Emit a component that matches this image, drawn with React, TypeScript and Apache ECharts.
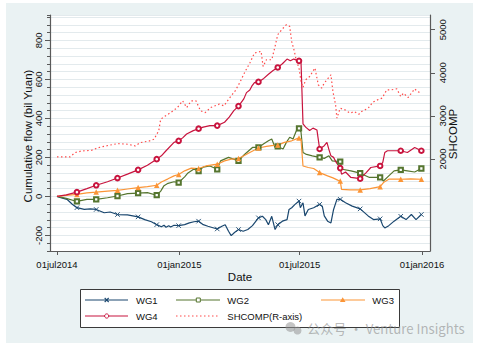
import React, { useEffect, useRef } from 'react';
import * as echarts from 'echarts';

const BASE = Date.UTC(2014, 6, 1);
const dayOf = (s: string) => {
  const [y, m, d] = s.split('-').map(Number);
  return Math.round((Date.UTC(y, m - 1, d) - BASE) / 86400000);
};

const FONT = '"Liberation Sans", Arial, sans-serif';

const xTickDates = ['2014-07-01', '2015-01-01', '2015-07-01', '2016-01-01'];
const xTickLabels = ['01jul2014', '01jan2015', '01jul2015', '01jan2016'];
const leftTicks = [-200, 0, 200, 400, 600, 800];
const rightTicks = [2000, 3000, 4000, 5000];
const seriesNames = ['WG1', 'WG2', 'WG3', 'WG4', 'SHCOMP(R-axis)'];

const monthEnds = [
  '2014-07-31', '2014-08-29', '2014-09-30', '2014-10-31', '2014-11-28', '2014-12-31',
  '2015-01-30', '2015-02-27', '2015-03-31', '2015-04-30', '2015-05-29', '2015-06-30',
  '2015-07-31', '2015-08-31', '2015-09-30', '2015-10-30', '2015-11-30', '2015-12-31',
];

const wg1: [string, number][] = [
  ['2014-07-01', 0], ['2014-07-08', -8], ['2014-07-16', -15], ['2014-07-24', -40], ['2014-07-31', -58],
  ['2014-08-11', -67], ['2014-08-20', -64], ['2014-08-29', -67], ['2014-09-10', -84], ['2014-09-19', -80],
  ['2014-09-30', -93], ['2014-10-15', -95], ['2014-10-31', -105], ['2014-11-10', -119], ['2014-11-20', -130],
  ['2014-11-28', -145], ['2014-12-05', -156], ['2014-12-09', -148], ['2014-12-12', -158], ['2014-12-16', -150],
  ['2014-12-19', -157], ['2014-12-24', -148], ['2014-12-31', -150], ['2015-01-09', -145], ['2015-01-16', -136],
  ['2015-01-23', -130], ['2015-01-30', -127], ['2015-02-06', -145], ['2015-02-13', -153], ['2015-02-27', -167],
  ['2015-03-06', -153], ['2015-03-11', -145], ['2015-03-16', -179], ['2015-03-20', -201], ['2015-03-25', -185],
  ['2015-03-31', -170], ['2015-04-07', -179], ['2015-04-14', -170], ['2015-04-21', -150], ['2015-04-30', -110],
  ['2015-05-06', -102], ['2015-05-11', -119], ['2015-05-15', -145], ['2015-05-20', -102], ['2015-05-25', -170],
  ['2015-05-29', -145], ['2015-06-05', -127], ['2015-06-12', -119], ['2015-06-15', -67], ['2015-06-19', -58],
  ['2015-06-24', -41], ['2015-06-30', -24], ['2015-07-02', -58], ['2015-07-06', -33], ['2015-07-09', -100],
  ['2015-07-14', -67], ['2015-07-22', -58], ['2015-07-31', -41], ['2015-08-04', -50], ['2015-08-07', -100],
  ['2015-08-12', -127], ['2015-08-17', -136], ['2015-08-21', -67], ['2015-08-26', -15], ['2015-08-31', -15],
  ['2015-09-08', -33], ['2015-09-18', -50], ['2015-09-30', -64], ['2015-10-12', -100], ['2015-10-20', -119],
  ['2015-10-30', -115], ['2015-11-03', -150], ['2015-11-06', -162], ['2015-11-12', -150], ['2015-11-20', -127],
  ['2015-11-30', -102], ['2015-12-08', -119], ['2015-12-16', -93], ['2015-12-23', -119], ['2015-12-31', -93],
];

const wg2: [string, number][] = [
  ['2014-07-01', 0], ['2014-07-15', -10], ['2014-07-31', -26], ['2014-08-15', -15], ['2014-08-29', -15],
  ['2014-09-15', -7], ['2014-09-30', 2], ['2014-10-15', 14], ['2014-10-31', 17], ['2014-11-14', 19],
  ['2014-11-28', 6], ['2014-12-04', 27], ['2014-12-09', 55], ['2014-12-15', 67], ['2014-12-24', 75],
  ['2014-12-31', 71], ['2015-01-09', 100], ['2015-01-14', 120], ['2015-01-23', 140], ['2015-01-30', 130],
  ['2015-02-06', 150], ['2015-02-16', 156], ['2015-02-27', 139], ['2015-03-04', 182], ['2015-03-16', 200],
  ['2015-03-31', 182], ['2015-04-09', 215], ['2015-04-21', 251], ['2015-04-30', 251], ['2015-05-08', 270],
  ['2015-05-15', 285], ['2015-05-20', 294], ['2015-05-25', 251], ['2015-05-29', 256], ['2015-06-06', 243],
  ['2015-06-11', 277], ['2015-06-16', 303], ['2015-06-21', 294], ['2015-06-26', 337], ['2015-06-30', 349],
  ['2015-07-03', 330], ['2015-07-06', 225], ['2015-07-10', 217], ['2015-07-20', 208], ['2015-07-31', 200],
  ['2015-08-07', 195], ['2015-08-14', 208], ['2015-08-19', 182], ['2015-08-31', 178], ['2015-09-03', 139],
  ['2015-09-16', 131], ['2015-09-30', 119], ['2015-10-14', 97], ['2015-10-30', 97], ['2015-11-04', 79],
  ['2015-11-12', 105], ['2015-11-20', 131], ['2015-11-30', 136], ['2015-12-10', 131], ['2015-12-21', 125],
  ['2015-12-31', 143],
];

const wg3: [string, number][] = [
  ['2014-07-01', 0], ['2014-07-15', 5], ['2014-07-31', 10], ['2014-08-15', 18], ['2014-08-29', 22],
  ['2014-09-15', 27], ['2014-09-30', 31], ['2014-10-15', 38], ['2014-10-31', 45], ['2014-11-14', 50],
  ['2014-11-28', 57], ['2014-12-05', 74], ['2014-12-15', 90], ['2014-12-24', 105], ['2014-12-31', 112],
  ['2015-01-09', 131], ['2015-01-19', 145], ['2015-01-30', 143], ['2015-02-10', 156], ['2015-02-27', 165],
  ['2015-03-10', 182], ['2015-03-20', 191], ['2015-03-31', 194], ['2015-04-08', 208], ['2015-04-17', 225],
  ['2015-04-30', 248], ['2015-05-12', 256], ['2015-05-20', 260], ['2015-05-29', 263], ['2015-06-08', 277],
  ['2015-06-19', 285], ['2015-06-30', 300], ['2015-07-03', 292], ['2015-07-06', 156], ['2015-07-14', 148],
  ['2015-07-22', 143], ['2015-07-31', 122], ['2015-08-12', 105], ['2015-08-20', 95], ['2015-08-28', 82],
  ['2015-08-31', 79], ['2015-09-02', 36], ['2015-09-15', 33], ['2015-09-30', 33], ['2015-10-15', 40],
  ['2015-10-30', 50], ['2015-11-04', 71], ['2015-11-12', 88], ['2015-11-30', 88], ['2015-12-15', 90],
  ['2015-12-31', 88],
];

const wg4: [string, number][] = [
  ['2014-07-01', 0], ['2014-07-15', 8], ['2014-07-31', 22], ['2014-08-15', 40], ['2014-08-29', 57],
  ['2014-09-15', 75], ['2014-09-30', 94], ['2014-10-15', 114], ['2014-10-31', 136], ['2014-11-14', 160],
  ['2014-11-28', 191], ['2014-12-05', 208], ['2014-12-12', 234], ['2014-12-24', 277], ['2014-12-31', 285],
  ['2015-01-06', 300], ['2015-01-12', 320], ['2015-01-22', 337], ['2015-01-30', 347], ['2015-02-06', 355],
  ['2015-02-16', 363], ['2015-02-27', 363], ['2015-03-10', 380], ['2015-03-17', 406], ['2015-03-24', 440],
  ['2015-03-31', 463], ['2015-04-08', 500], ['2015-04-12', 532], ['2015-04-17', 545], ['2015-04-20', 565],
  ['2015-04-24', 583], ['2015-04-30', 587], ['2015-05-08', 605], ['2015-05-15', 626], ['2015-05-22', 645],
  ['2015-05-29', 661], ['2015-06-05', 680], ['2015-06-12', 704], ['2015-06-17', 695], ['2015-06-22', 704],
  ['2015-06-30', 695], ['2015-07-03', 690], ['2015-07-06', 372], ['2015-07-10', 355], ['2015-07-16', 338],
  ['2015-07-21', 350], ['2015-07-27', 340], ['2015-07-31', 243], ['2015-08-07', 260], ['2015-08-11', 277],
  ['2015-08-14', 240], ['2015-08-17', 208], ['2015-08-21', 200], ['2015-08-25', 174], ['2015-08-31', 145],
  ['2015-09-02', 114], ['2015-09-08', 125], ['2015-09-16', 97], ['2015-09-30', 91], ['2015-10-09', 122],
  ['2015-10-16', 148], ['2015-10-30', 156], ['2015-11-03', 174], ['2015-11-06', 225], ['2015-11-10', 234],
  ['2015-11-20', 234], ['2015-11-30', 234], ['2015-12-10', 225], ['2015-12-21', 251], ['2015-12-31', 234],
];

const shcomp: [string, number][] = [
  ['2014-07-01', 2050], ['2014-07-21', 2050], ['2014-07-28', 2147], ['2014-08-07', 2186], ['2014-08-22', 2202],
  ['2014-09-01', 2263], ['2014-09-12', 2302], ['2014-09-30', 2356], ['2014-10-16', 2342], ['2014-10-27', 2302],
  ['2014-11-03', 2379], ['2014-11-17', 2419], ['2014-11-24', 2458], ['2014-11-28', 2574], ['2014-12-01', 2651],
  ['2014-12-04', 2923], ['2014-12-11', 3000], ['2014-12-19', 3077], ['2014-12-29', 3193], ['2015-01-06', 3349],
  ['2015-01-12', 3193], ['2015-01-19', 3349], ['2015-01-26', 3349], ['2015-02-02', 3116], ['2015-02-09', 3077],
  ['2015-02-17', 3193], ['2015-03-02', 3272], ['2015-03-09', 3233], ['2015-03-18', 3426], ['2015-03-26', 3582],
  ['2015-04-02', 3775], ['2015-04-10', 4031], ['2015-04-17', 4226], ['2015-04-24', 4459], ['2015-05-04', 4497],
  ['2015-05-07', 4147], ['2015-05-12', 4303], ['2015-05-20', 4303], ['2015-05-25', 4612], ['2015-05-29', 4884],
  ['2015-06-04', 5000], ['2015-06-11', 5117], ['2015-06-16', 5077], ['2015-06-19', 4728], ['2015-06-23', 4497],
  ['2015-06-26', 4280], ['2015-06-30', 4110], ['2015-07-03', 3800], ['2015-07-06', 3658], ['2015-07-10', 3838],
  ['2015-07-16', 3914], ['2015-07-24', 4110], ['2015-07-29', 3721], ['2015-08-03', 3644], ['2015-08-07', 3761],
  ['2015-08-17', 3954], ['2015-08-20', 3565], ['2015-08-24', 3256], ['2015-08-26', 2947], ['2015-08-31', 3179],
  ['2015-09-07', 3140], ['2015-09-15', 3063], ['2015-09-21', 3101], ['2015-09-28', 3039], ['2015-10-02', 3101],
  ['2015-10-12', 3179], ['2015-10-19', 3319], ['2015-10-26', 3372], ['2015-11-02', 3412], ['2015-11-09', 3605],
  ['2015-11-16', 3605], ['2015-11-24', 3628], ['2015-11-30', 3449], ['2015-12-04', 3528], ['2015-12-11', 3426],
  ['2015-12-21', 3628], ['2015-12-25', 3565], ['2015-12-31', 3528],
];

const COLORS = ['#1a476f', '#55752f', '#fb9537', '#c8143e', '#ff4a4a'];
const XSYM = 'path://M0,0L10,10M10,0L0,10';

const toData = (rows: [string, number][], sym: string) =>
  rows.map(([d, v]) => ({ value: [dayOf(d), v], symbol: monthEnds.includes(d) ? sym : 'none' }));

export default function App() {
  const ref = useRef<HTMLDivElement>(null);
  useEffect(() => {
    if (!ref.current) return;
    const chart = echarts.init(ref.current, undefined, { renderer: 'svg' });
    const xTicks = xTickDates.map(dayOf);
    const labelOf = (v: number) => {
      const i = xTicks.indexOf(Math.round(v));
      return i >= 0 ? xTickLabels[i] : '';
    };
    const axisLineStyle = { color: '#5a5a5a', width: 1.2 };
    const tickStyle = { color: '#5a5a5a', width: 1 };
    const lab = { fontSize: 9.5, fontFamily: FONT, color: '#111' };

    const ly1 = 300, ly2 = 316;
    const legendGraphics: any[] = [
      { type: 'rect', z: 10, shape: { x: 80.5, y: 289.5, width: 319, height: 38 }, style: { fill: '#fff', stroke: '#3a3a3a', lineWidth: 1 } },
      { type: 'line', z: 11, shape: { x1: 85, y1: ly1, x2: 128, y2: ly1 }, style: { stroke: COLORS[0], lineWidth: 1.2 } },
      { type: 'line', z: 12, shape: { x1: 104.7, y1: ly1 - 2, x2: 108.7, y2: ly1 + 2 }, style: { stroke: COLORS[0], lineWidth: 1.1 } },
      { type: 'line', z: 12, shape: { x1: 104.7, y1: ly1 + 2, x2: 108.7, y2: ly1 - 2 }, style: { stroke: COLORS[0], lineWidth: 1.1 } },
      { type: 'line', z: 11, shape: { x1: 176, y1: ly1, x2: 220, y2: ly1 }, style: { stroke: COLORS[1], lineWidth: 1.2 } },
      { type: 'rect', z: 12, shape: { x: 196.3, y: ly1 - 2, width: 4, height: 4 }, style: { fill: '#fff', stroke: COLORS[1], lineWidth: 1 } },
      { type: 'line', z: 11, shape: { x1: 321, y1: ly1, x2: 365, y2: ly1 }, style: { stroke: COLORS[2], lineWidth: 1.2 } },
      { type: 'polygon', z: 12, shape: { points: [[342.7, ly1 - 2.8], [345.5, ly1 + 2], [339.9, ly1 + 2]] }, style: { fill: COLORS[2] } },
      { type: 'line', z: 11, shape: { x1: 85, y1: ly2, x2: 128, y2: ly2 }, style: { stroke: COLORS[3], lineWidth: 1.2 } },
      { type: 'circle', z: 12, shape: { cx: 106.7, cy: ly2, r: 2.1 }, style: { fill: '#fff', stroke: COLORS[3], lineWidth: 1 } },
      { type: 'line', z: 11, shape: { x1: 176, y1: ly2, x2: 219, y2: ly2 }, style: { stroke: COLORS[4], lineWidth: 1.2, lineDash: [1.5, 2.5] } },
    ];
    const legendTexts = [
      [seriesNames[0], 136, ly1], [seriesNames[1], 227.3, ly1], [seriesNames[2], 372.3, ly1],
      [seriesNames[3], 136, ly2], [seriesNames[4], 227.3, ly2],
    ].map(([t, x, y]) => ({
      type: 'text', z: 12, x, y,
      style: { text: t, fontSize: 9.5, fontFamily: FONT, fill: '#111', textAlign: 'left', textVerticalAlign: 'middle' },
    }));

    chart.setOption({
      animation: false,
      backgroundColor: '#ffffff',
      grid: { left: 50, top: 15, width: 380, height: 236, containLabel: false },
      xAxis: {
        type: 'value', min: -10.5, max: 561,
        axisLine: { show: true, onZero: false, lineStyle: axisLineStyle },
        axisTick: { show: true, customValues: xTicks, length: 4, lineStyle: tickStyle },
        axisLabel: { customValues: xTicks, formatter: labelOf, margin: 8, ...lab },
        splitLine: { show: false },
      },
      yAxis: [
        {
          type: 'value', position: 'left', min: -280, max: 930, interval: 40,
          axisLine: { show: true, onZero: false, lineStyle: axisLineStyle },
          axisTick: { show: true, length: 3, lineStyle: tickStyle },
          axisLabel: { show: false },
          splitLine: { show: true, lineStyle: { color: '#e3eaed', width: 1 } },
        },
        {
          type: 'value', position: 'right', min: -135, max: 5341,
          axisLine: { show: true, onZero: false, lineStyle: axisLineStyle },
          axisTick: { show: true, customValues: rightTicks, length: 5, lineStyle: tickStyle },
          axisLabel: { customValues: rightTicks, rotate: 90, margin: 7, formatter: (v: number) => String(v), ...lab },
          splitLine: { show: false },
        },
        {
          type: 'value', position: 'left', min: -280, max: 930,
          axisLine: { show: false, onZero: false },
          axisTick: { show: true, customValues: leftTicks, length: 5, lineStyle: tickStyle },
          axisLabel: { customValues: leftTicks, rotate: 90, margin: 7, formatter: (v: number) => String(v), ...lab },
          splitLine: { show: false },
        },
      ],
      graphic: [
        { type: 'rect', z: -10, shape: { x: 6, y: 3, width: 467, height: 340 }, style: { fill: '#eaf2f3' } },
        { type: 'rect', z: -9, shape: { x: 50, y: 15, width: 380, height: 236 }, style: { fill: '#ffffff' } },
        {
          type: 'text', x: 28, y: 136, rotation: Math.PI / 2,
          style: { text: 'Cumulative flow (bil Yuan)', fontSize: 11.5, fontFamily: FONT, fill: '#111', textAlign: 'center', textVerticalAlign: 'middle' },
        },
        {
          type: 'text', x: 452.5, y: 134, rotation: Math.PI / 2,
          style: { text: 'SHCOMP', fontSize: 11.5, fontFamily: FONT, fill: '#111', textAlign: 'center', textVerticalAlign: 'middle' },
        },
        {
          type: 'text', x: 240, y: 277,
          style: { text: 'Date', fontSize: 11.5, fontFamily: FONT, fill: '#111', textAlign: 'center', textVerticalAlign: 'middle' },
        },
        ...legendGraphics,
        ...legendTexts,
        { type: 'circle', z: 20, shape: { cx: 290.5, cy: 327, r: 5 }, style: { fill: 'rgba(150,150,150,0.55)' } },
        { type: 'circle', z: 20, shape: { cx: 297.5, cy: 330.5, r: 4 }, style: { fill: 'rgba(150,150,150,0.55)' } },
        {
          type: 'text', z: 20, x: 307, y: 328.5,
          style: { text: '公众号 · Venture Insights', fontSize: 13.2, fontFamily: '"Noto Sans CJK SC", "Noto Sans", sans-serif', fill: 'rgba(140,140,140,0.6)', textAlign: 'left', textVerticalAlign: 'middle' },
        },
      ],
      series: [
        {
          name: seriesNames[0], type: 'line', data: toData(wg1, XSYM), symbolSize: 4.5, showAllSymbol: true,
          lineStyle: { color: COLORS[0], width: 1.2 },
          itemStyle: { color: COLORS[0], borderColor: COLORS[0], borderWidth: 0.9 }, silent: true,
        },
        {
          name: seriesNames[1], type: 'line', data: toData(wg2, 'emptyRect'), symbolSize: 4.3, showAllSymbol: true,
          lineStyle: { color: COLORS[1], width: 1.2 },
          itemStyle: { color: COLORS[1], borderColor: COLORS[1], borderWidth: 0.9 }, silent: true,
        },
        {
          name: seriesNames[2], type: 'line', data: toData(wg3, 'triangle'), symbolSize: 5.5, showAllSymbol: true,
          lineStyle: { color: COLORS[2], width: 1.2 },
          itemStyle: { color: COLORS[2], borderWidth: 0 }, silent: true,
        },
        {
          name: seriesNames[3], type: 'line', data: toData(wg4, 'emptyCircle'), symbolSize: 4.6, showAllSymbol: true,
          lineStyle: { color: COLORS[3], width: 1.2 },
          itemStyle: { color: COLORS[3], borderColor: COLORS[3], borderWidth: 0.9 }, silent: true,
        },
        {
          name: seriesNames[4], type: 'line', yAxisIndex: 1, data: shcomp.map(([d, v]) => [dayOf(d), v]),
          symbol: 'none', lineStyle: { color: COLORS[4], width: 1.2, type: [1.5, 2.5] }, silent: true,
        },
      ],
    });
    return () => chart.dispose();
  }, []);
  return <div ref={ref} style={{ position: 'absolute', left: 0, top: 0, width: 478, height: 347 }} />;
}
